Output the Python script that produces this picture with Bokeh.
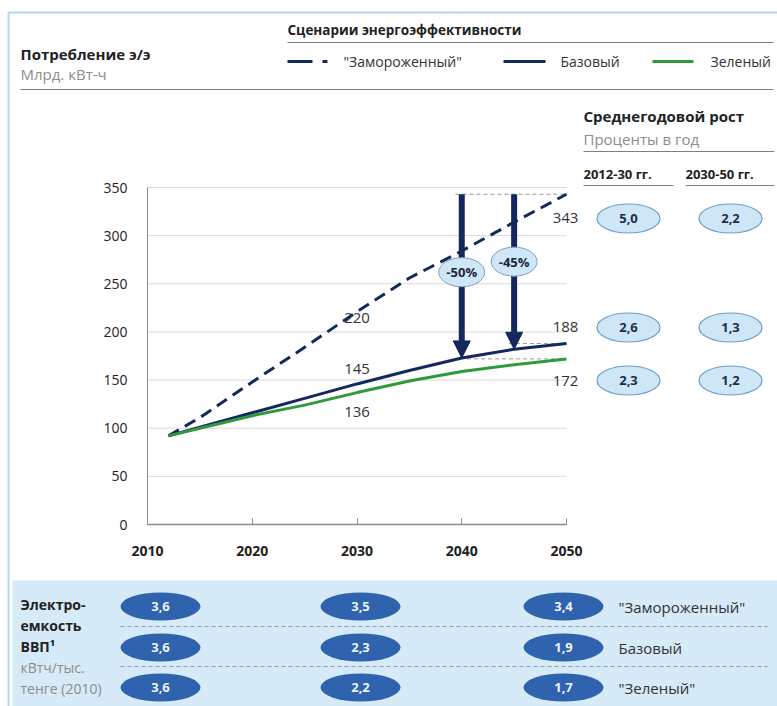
from bokeh.plotting import figure
from bokeh.models import Range1d, LinearAxis, FixedTicker, Arrow, NormalHead
from bokeh.core.properties import value
from bokeh.embed import file_html
from bokeh.resources import INLINE

# ---------------- data ----------------
years = [2012, 2015, 2020, 2025, 2030, 2035, 2040, 2045, 2050]
frozen = [92, 111, 148, 184, 221, 256, 284, 314, 343]
base = [92, 101, 116, 131, 146, 160, 173, 182, 188]
green = [92, 100, 113, 124, 137, 149, 159, 166, 172]

x_ticks = [2010, 2020, 2030, 2040, 2050]
y_ticks = [0, 50, 100, 150, 200, 250, 300, 350]

label_2030 = ["220", "145", "136"]
label_2050 = ["343", "188", "172"]

arrow_years = [2040, 2045]
reduction_labels = ["-50%", "-45%"]

scenario_names = ['"Замороженный"', "Базовый", '"Зеленый"']
legend_names = ['"Замороженный"', "Базовый", "Зеленый"]

growth_headers = ["2012-30 гг.", "2030-50 гг."]
growth_2012_30 = ["5,0", "2,6", "2,3"]
growth_2030_50 = ["2,2", "1,3", "1,2"]

intensity_start = ["3,6", "3,6", "3,6"]
intensity_2030 = ["3,5", "2,3", "2,2"]
intensity_2050 = ["3,4", "1,9", "1,7"]

# ---------------- layout / style ----------------
W, H = 777, 706
FONT = "Open Sans"
NAVY = "#14285e"
GREEN = "#2f9a3b"
DARK = "#222222"
GREY_TXT = "#8c8c8c"
RULE = "#7f7f7f"

# chart plot-area in pixels
PX_X0, PX_X1 = 147, 566     # 2010 .. 2050
PX_Y0, PX_Y1 = 524, 187     # 0 .. 350
kx = (PX_X1 - PX_X0) / 40.0
ky = (PX_Y0 - PX_Y1) / 350.0

p = figure(width=W, height=H,
           x_range=Range1d(2010 - PX_X0 / kx, 2050 + (W - PX_X1) / kx),
           y_range=Range1d(-(H - PX_Y0) / ky, 350 + PX_Y1 / ky),
           output_backend="svg", toolbar_location=None, min_border=0,
           x_axis_type=None, y_axis_type=None, outline_line_color=None,
           background_fill_color="white", border_fill_color="white")
p.extra_x_ranges = {"px": Range1d(0, W)}
p.extra_y_ranges = {"px": Range1d(H, 0)}
PX = dict(x_range_name="px", y_range_name="px")


def txt(x, y, s, size=14, color=DARK, style="normal", align="left", level="glyph"):
    r = p.text(x=[x], y=[y], text=[s], text_font=value(FONT),
               text_font_size=f"{size}px", text_color=color,
               text_font_style=style, text_align=align,
               text_baseline="middle", **PX)
    r.level = level
    return r


def hline(x0, x1, y, color=RULE, width=1, dash="solid"):
    p.segment(x0=[x0], x1=[x1], y0=[y], y1=[y], line_color=color,
              line_width=width, line_dash=dash, **PX)


# bottom panel background
p.quad(left=[12], right=[W], top=[580], bottom=[H], fill_color="#d6eaf7",
       line_color=None, **PX)

# outer light-blue frame
p.segment(x0=[8, 8], x1=[W, 8], y0=[12, 12], y1=[12, H],
          line_color="#b3d7ef", line_width=2, **PX)

# ---------------- header ----------------
txt(20, 53, "Потребление э/э", 15, DARK, "bold")
txt(20, 73, "Млрд. кВт-ч", 15, GREY_TXT)
txt(287, 29, "Сценарии энергоэффективности", 13.5, DARK, "bold")
hline(287, 773, 42)
hline(20, 773, 89)

# legend
p.line(x=[287, 328], y=[61, 61], line_color=NAVY, line_width=3,
       line_dash="25 10 5 100", **PX)
txt(343, 61, legend_names[0], 14, "#333333")
p.line(x=[503, 545], y=[61, 61], line_color=NAVY, line_width=3, **PX)
txt(560, 61, legend_names[1], 14, "#333333")
p.line(x=[652, 693], y=[61, 61], line_color=GREEN, line_width=3, **PX)
txt(710, 61, legend_names[2], 14, "#333333")

# ---------------- chart ----------------
# horizontal gridlines
grid_vals = [v for v in y_ticks if v > 0]
p.segment(x0=[x_ticks[0]] * len(grid_vals), x1=[x_ticks[-1]] * len(grid_vals),
          y0=grid_vals, y1=grid_vals, line_color="#d9d9d9", line_width=1)

yaxis = LinearAxis(fixed_location=2010, bounds=(0, 350),
                   ticker=FixedTicker(ticks=y_ticks),
                   axis_line_color="#8c8c8c", axis_line_width=1,
                   major_tick_line_color=None, minor_tick_line_color=None,
                   major_label_standoff=14,
                   major_label_text_font=FONT, major_label_text_font_size="14px",
                   major_label_text_color=DARK)
p.add_layout(yaxis, "left")

xaxis = LinearAxis(fixed_location=0, bounds=(2010, 2050),
                   ticker=FixedTicker(ticks=x_ticks),
                   axis_line_color="#8c8c8c", axis_line_width=1.5,
                   major_tick_line_color="#8c8c8c", major_tick_in=6,
                   major_tick_out=0, minor_tick_line_color=None,
                   major_label_standoff=21,
                   major_label_text_font=FONT, major_label_text_font_size="14px",
                   major_label_text_font_style="bold",
                   major_label_text_color=DARK)
p.add_layout(xaxis, "below")

# reference dashed lines at arrow ends
ref_y = [frozen[-1], base[-1], green[-1]]
ref_x0 = [arrow_years[0] - 0.6, arrow_years[1] - 0.5, arrow_years[0] + 0.5]
p.segment(x0=ref_x0, x1=[2050] * 3, y0=ref_y, y1=ref_y,
          line_color="#9a9a9a", line_width=1, line_dash="4 3")

# series
p.line(years, frozen, line_color=NAVY, line_width=3, line_dash="12 7")
p.line(years, base, line_color=NAVY, line_width=3)
p.line(years, green, line_color=GREEN, line_width=3)

# value labels at 2030 and 2050
i2030 = years.index(2030)
p.text(x=[2030] * 3, y=[frozen[i2030], base[i2030], green[i2030]],
       text=label_2030, y_offset=[6, -15, 19], text_align="center",
       text_baseline="middle", text_font=value(FONT), text_font_size="15px",
       text_color="#333333")
p.text(x=[2050] * 3, y=[frozen[-1], base[-1], green[-1]],
       text=label_2050, x_offset=[-1, -1, -1], y_offset=[24, -16, 22],
       text_align="center", text_baseline="middle", text_font=value(FONT),
       text_font_size="15px", text_color="#333333")

# arrows showing reduction vs frozen scenario
for yr in arrow_years:
    p.add_layout(Arrow(x_start=yr, y_start=frozen[-1], x_end=yr,
                       y_end=base[years.index(yr)],
                       line_color=NAVY, line_width=6,
                       end=NormalHead(size=17, fill_color=NAVY, line_color=NAVY,
                                      line_width=1)))

red_pos_y = [262, 273]
er = p.ellipse(x=arrow_years, y=red_pos_y, width=46, height=29,
               width_units="screen", height_units="screen",
               fill_color="#cfe6f6", line_color="#7f9fbf", line_width=1)
er.level = "overlay"
tr = p.text(x=arrow_years, y=red_pos_y, text=reduction_labels,
            text_align="center", text_baseline="middle", text_font=value(FONT),
            text_font_size="13px", text_font_style="bold", text_color="#1a2740")
tr.level = "overlay"

# ---------------- right panel: average annual growth ----------------
txt(583, 115, "Среднегодовой рост", 15, DARK, "bold")
txt(583, 138, "Проценты в год", 15, GREY_TXT)
hline(583, 774, 151)
txt(583, 173, growth_headers[0], 13, DARK, "bold")
txt(685, 173, growth_headers[1], 13, DARK, "bold")
hline(583, 673, 185)
hline(685, 774, 185)

row_y = [218, 327, 380]
col_x = [628, 730]
for cx, vals in zip(col_x, [growth_2012_30, growth_2030_50]):
    p.ellipse(x=[cx] * 3, y=row_y, width=63, height=29,
              width_units="screen", height_units="screen",
              fill_color="#cde7f7", line_color="#6f9cc4", line_width=1.2, **PX)
    p.text(x=[cx] * 3, y=row_y, text=vals, text_align="center",
           text_baseline="middle", text_font=value(FONT), text_font_size="13px",
           text_font_style="bold", text_color="#1f2d4a", **PX)

# ---------------- bottom panel: electricity intensity of GDP ----------------
txt(20, 604, "Электро-", 14, DARK, "bold")
txt(20, 625, "емкость", 14, DARK, "bold")
txt(20, 646, "ВВП¹", 14, DARK, "bold")
txt(20, 667, "кВтч/тыс.", 14, GREY_TXT)
txt(20, 688, "тенге (2010)", 14, GREY_TXT)

hline(120, 767, 626, color="#8c9bb0", dash="4 3")
hline(120, 767, 666, color="#8c9bb0", dash="4 3")

b_rows = [606, 647, 687]
b_cols = [160, 360, 563]
for cx, vals in zip(b_cols, [intensity_start, intensity_2030, intensity_2050]):
    p.ellipse(x=[cx] * 3, y=b_rows, width=80, height=28,
              width_units="screen", height_units="screen",
              fill_color="#2f63ad", line_color=None, **PX)
    p.text(x=[cx] * 3, y=b_rows, text=vals, text_align="center",
           text_baseline="middle", text_font=value(FONT), text_font_size="13px",
           text_font_style="bold", text_color="#eef4fb", **PX)

for yy, name in zip(b_rows, scenario_names):
    txt(618, yy, name, 15, "#333333")

open("out.html", "w").write(file_html(p, INLINE))
